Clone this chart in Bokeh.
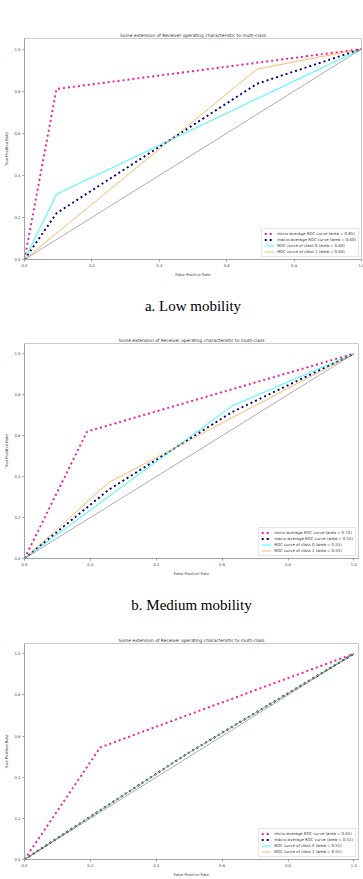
from bokeh.plotting import figure
from bokeh.layouts import column
from bokeh.models import Range1d, Legend, LegendItem, Title, FixedTicker
from bokeh.embed import file_html
from bokeh.resources import INLINE

TITLE = "Some extension of Receiver operating characteristic to multi-class"
X_LABEL = "False Positive Rate"
Y_LABEL = "True Positive Rate"
TICKS = [0.0, 0.2, 0.4, 0.6, 0.8, 1.0]
TICK_LABELS = ["0.0", "0.2", "0.4", "0.6", "0.8", "1.0"]

# ---- a. Low mobility ----
low_micro_fpr = [0.0, 0.095, 1.0]
low_micro_tpr = [0.0, 0.81, 1.0]
low_macro_fpr = [0.0, 0.095, 0.69, 1.0]
low_macro_tpr = [0.0, 0.22, 0.835, 1.0]
low_c0_fpr = [0.0, 0.095, 1.0]
low_c0_tpr = [0.0, 0.31, 1.0]
low_c1_fpr = [0.0, 0.69, 1.0]
low_c1_tpr = [0.0, 0.905, 1.0]
low_areas = [0.85, 0.60, 0.60, 0.60]

# ---- b. Medium mobility ----
med_micro_fpr = [0.0, 0.19, 1.0]
med_micro_tpr = [0.0, 0.62, 1.0]
med_macro_fpr = [0.0, 0.255, 0.63, 1.0]
med_macro_tpr = [0.0, 0.335, 0.715, 1.0]
med_c0_fpr = [0.0, 0.63, 1.0]
med_c0_tpr = [0.0, 0.745, 1.0]
med_c1_fpr = [0.0, 0.255, 1.0]
med_c1_tpr = [0.0, 0.37, 1.0]
med_areas = [0.72, 0.55, 0.55, 0.55]

# ---- c. High mobility ----
high_micro_fpr = [0.0, 0.23, 1.0]
high_micro_tpr = [0.0, 0.545, 1.0]
high_macro_fpr = [0.0, 0.48, 0.5, 1.0]
high_macro_tpr = [0.0, 0.50, 0.52, 1.0]
high_c0_fpr = [0.0, 0.5, 1.0]
high_c0_tpr = [0.0, 0.52, 1.0]
high_c1_fpr = [0.0, 0.48, 1.0]
high_c1_tpr = [0.0, 0.50, 1.0]
high_areas = [0.65, 0.51, 0.51, 0.51]

FONT = "DejaVu Sans"


def roc_panel(curves, areas, caption, left, frame_w, x_end, top, frame_h, bottom, right):
    p = figure(
        frame_width=frame_w, frame_height=frame_h,
        x_range=Range1d(0, x_end), y_range=Range1d(0, 1.05),
        output_backend="svg", toolbar_location=None,
        min_border_left=left, min_border_right=right,
        min_border_top=top, min_border_bottom=bottom,
        background_fill_color="white", border_fill_color="white",
    )
    p.grid.visible = False
    p.outline_line_color = "#bdbdbd"
    p.outline_line_width = 0.8

    p.title.text = TITLE
    p.title.text_font = FONT
    p.title.text_font_size = "4.4px"
    p.title.text_font_style = "normal"
    p.title.text_color = "#333333"
    p.title.align = "center"
    p.title.standoff = 1

    for ax, lab in ((p.xaxis[0], X_LABEL), (p.yaxis[0], Y_LABEL)):
        ax.ticker = FixedTicker(ticks=TICKS)
        ax.major_label_overrides = dict(zip(TICKS, TICK_LABELS))
        ax.axis_label = lab
        ax.axis_label_text_font = FONT
        ax.axis_label_text_font_size = "3.8px"
        ax.axis_label_text_font_style = "normal"
        ax.axis_label_text_color = "#444444"
        ax.axis_label_standoff = 2
        ax.major_label_text_font = FONT
        ax.major_label_text_font_size = "3.8px"
        ax.major_label_text_color = "#444444"
        ax.major_label_standoff = 2
        ax.major_tick_out = 2
        ax.major_tick_in = 0
        ax.minor_tick_out = 0
        ax.minor_tick_in = 0
        ax.axis_line_color = "#999999"
        ax.axis_line_width = 0.8
        ax.major_tick_line_color = "#999999"

    micro, macro, c0, c1 = curves
    r_micro = p.line(micro[0], micro[1], line_color="deeppink", line_width=1.9,
                     line_dash="2 3")
    r_macro = p.line(macro[0], macro[1], line_color="navy", line_width=1.9,
                     line_dash="2 3")
    r_c0 = p.line(c0[0], c0[1], line_color="aqua", line_width=1.0, line_alpha=0.8)
    r_c1 = p.line(c1[0], c1[1], line_color="darkorange", line_width=1.0, line_alpha=0.6)
    # chance diagonal
    p.line([0.0, 1.0], [0.0, 1.0], line_color="black", line_width=0.6, line_alpha=0.55)

    labels = [
        "micro-average ROC curve (area = %.2f)" % areas[0],
        "macro-average ROC curve (area = %.2f)" % areas[1],
        "ROC curve of class 0 (area = %.2f)" % areas[2],
        "ROC curve of class 1 (area = %.2f)" % areas[3],
    ]
    legend = Legend(
        items=[LegendItem(label=t, renderers=[r]) for t, r in
               zip(labels, [r_micro, r_macro, r_c0, r_c1])],
        location="bottom_right",
        label_text_font=FONT, label_text_font_size="3.9px", label_text_color="#333333",
        label_height=5, glyph_height=5, glyph_width=10, label_standoff=3,
        spacing=1, padding=2, margin=2,
        border_line_color="#cccccc", border_line_width=0.6,
        background_fill_color="white", background_fill_alpha=0.85,
    )
    p.add_layout(legend)

    if caption:
        cap = Title(text=caption, align="center", text_font="Liberation Serif",
                    text_font_size="15px", text_font_style="normal",
                    text_color="black", standoff=33)
        p.add_layout(cap, "below")
    return p


p1 = roc_panel(
    [(low_micro_fpr, low_micro_tpr), (low_macro_fpr, low_macro_tpr),
     (low_c0_fpr, low_c0_tpr), (low_c1_fpr, low_c1_tpr)],
    low_areas, "a. Low mobility",
    left=20, frame_w=337, x_end=1.0, top=38, frame_h=221, bottom=75, right=6)

p2 = roc_panel(
    [(med_micro_fpr, med_micro_tpr), (med_macro_fpr, med_macro_tpr),
     (med_c0_fpr, med_c0_tpr), (med_c1_fpr, med_c1_tpr)],
    med_areas, "b. Medium mobility",
    left=24, frame_w=334, x_end=1.014, top=9, frame_h=215, bottom=75, right=5)

p3 = roc_panel(
    [(high_micro_fpr, high_micro_tpr), (high_macro_fpr, high_macro_tpr),
     (high_c0_fpr, high_c0_tpr), (high_c1_fpr, high_c1_tpr)],
    high_areas, None,
    left=24, frame_w=334, x_end=1.014, top=10, frame_h=216, bottom=20, right=5)

layout = column(p1, p2, p3, spacing=0)

open("out.html", "w").write(file_html(layout, INLINE))
